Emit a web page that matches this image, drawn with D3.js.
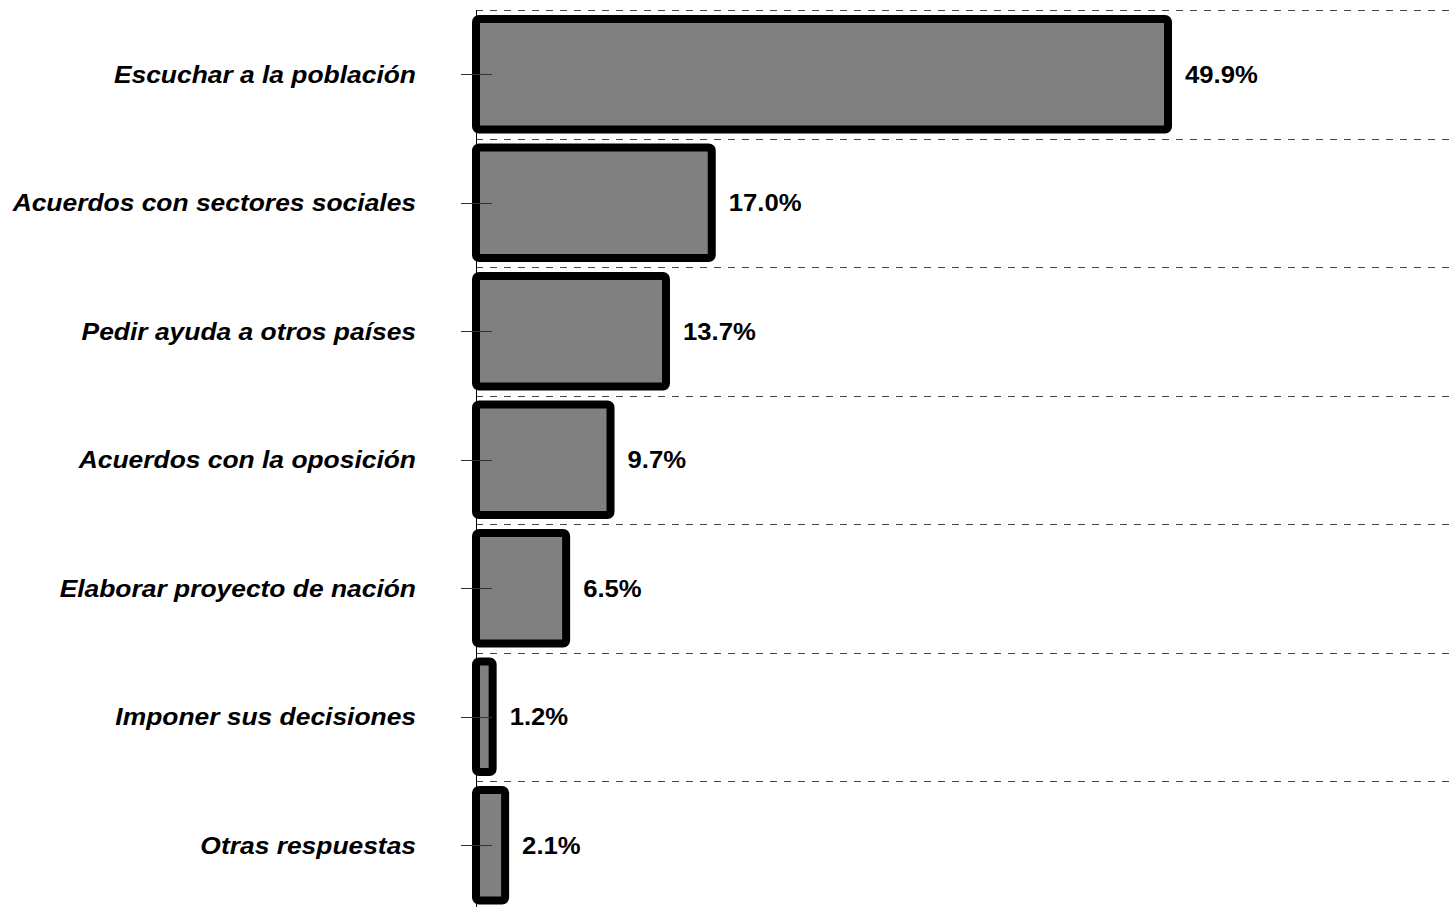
<!DOCTYPE html>
<html>
<head>
<meta charset="utf-8">
<script src="https://cdn.jsdelivr.net/npm/d3@7"></script>
<style>
html,body{margin:0;padding:0;background:#fff;}
svg{display:block;}
text{font-family:"Liberation Sans", Arial, sans-serif;}
</style>
</head>
<body>
<svg id="chart" width="1453" height="907"></svg>
<script>
const categories = [
  "Escuchar a la población",
  "Acuerdos con sectores sociales",
  "Pedir ayuda a otros países",
  "Acuerdos con la oposición",
  "Elaborar proyecto de nación",
  "Imponer sus decisiones",
  "Otras respuestas"
];
const values = [49.9, 17.0, 13.7, 9.7, 6.5, 1.2, 2.1];
const valueLabels = ["49.9%", "17.0%", "13.7%", "9.7%", "6.5%", "1.2%", "2.1%"];

const svg = d3.select("#chart");
const W = 1453, H = 907;
const x0 = 476;
const x = d3.scaleLinear().domain([0, 49.9]).range([x0, 1168]);
const y = d3.scaleBand().domain(categories).range([10, 909.5]).paddingInner(0.14).paddingOuter(0.07);

// dashed gridlines at band boundaries
const step = y.step();
const bounds = d3.range(categories.length).map(i => 10 + i * step);
svg.append("g").selectAll("line").data(bounds).join("line")
  .attr("x1", x0).attr("x2", W)
  .attr("y1", d => Math.round(d) + 0.5).attr("y2", d => Math.round(d) + 0.5)
  .attr("stroke", "#444").attr("stroke-width", 1).attr("stroke-dasharray", "7,7");

// bars
svg.append("g").selectAll("rect").data(values).join("rect")
  .attr("x", x(0))
  .attr("y", (d, i) => y(categories[i]))
  .attr("width", d => x(d) - x(0))
  .attr("height", y.bandwidth())
  .attr("rx", 3).attr("ry", 3)
  .attr("fill", "#808080")
  .attr("stroke", "#000")
  .attr("stroke-width", 8);

// axis line
svg.append("line").attr("x1", x0 + 0.5).attr("x2", x0 + 0.5).attr("y1", 10).attr("y2", H)
  .attr("stroke", "#000").attr("stroke-width", 1);

// ticks
svg.append("g").selectAll("line").data(categories).join("line")
  .attr("x1", 461).attr("x2", 492)
  .attr("y1", d => Math.round(y(d) + y.bandwidth() / 2) + 0.5)
  .attr("y2", d => Math.round(y(d) + y.bandwidth() / 2) + 0.5)
  .attr("stroke", "#333").attr("stroke-width", 1);

// category labels
svg.append("g").selectAll("text").data(categories).join("text")
  .attr("transform", d => `translate(416,${y(d) + y.bandwidth() / 2}) scale(1.1,1)`)
  .attr("dy", "0.35em")
  .attr("text-anchor", "end")
  .style("font-family", "'Liberation Sans', Arial, sans-serif")
  .attr("font-weight", "bold").attr("font-style", "italic")
  .attr("font-size", 24)
  .attr("fill", "#000")
  .text(d => d);

// value labels
svg.append("g").selectAll("text").data(values).join("text")
  .attr("transform", (d, i) => `translate(${x(d) + 17},${y(categories[i]) + y.bandwidth() / 2}) scale(1.07,1)`)
  .attr("dy", "0.35em")
  .style("font-family", "'Liberation Sans', Arial, sans-serif")
  .attr("font-weight", "bold")
  .attr("font-size", 24)
  .attr("fill", "#000")
  .text((d, i) => valueLabels[i]);
</script>
</body>
</html>
